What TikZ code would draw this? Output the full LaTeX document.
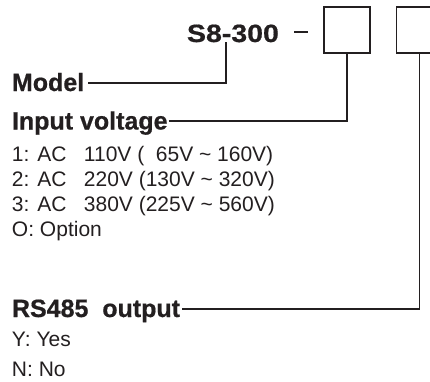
\documentclass[tikz,border=0pt]{standalone}
\usepackage{fontspec}
\setmainfont{Liberation Sans}
\newfontfamily\headfont[FakeBold=0.6]{Liberation Sans Bold}
\newfontfamily\widefont[FakeStretch=1.14,FakeBold=0.6]{Liberation Sans Bold}
\definecolor{ink}{HTML}{231F20}
\begin{document}
\begin{tikzpicture}[x=1pt,y=-1pt,
  every node/.style={inner sep=0pt,outer sep=0pt,text=ink},
  head/.style={anchor=base west,font=\fontsize{25}{30}\headfont},
  item/.style={anchor=base west,font=\fontsize{21}{25}\selectfont},
  slot/.style={draw=ink,line width=1.2pt,minimum width=46pt,minimum height=46pt},
  conn/.style={draw=ink,line width=1.1pt}]
\clip (0,0) rectangle (430,381);
\fill[white] (0,0) rectangle (430,381);
% model code
\node[anchor=base west,font=\fontsize{25}{30}\widefont] (s8) at (187,42) {S8-300};
\node[text=ink] (dash) at (301,32) {\color{ink}\rule{14pt}{1.8pt}};
\node[slot] (box1) at (347,30) {};
\node[slot] (box2) at (419.5,30) {};
% headings
\node[head] (model) at (12,91) {Model};
\node[head] (input) at (12,129.5) {Input voltage};
\node[head] (rs) at (12,317) {RS485~~output};
% items
\node[item] (i1) at (12,161) {1: AC~~~110V (~~65V \textasciitilde{} 160V)};
\node[item] (i2) at (12,186) {2: AC~~~220V (130V \textasciitilde{} 320V)};
\node[item] (i3) at (12,211) {3: AC~~~380V (225V \textasciitilde{} 560V)};
\node[item] (i4) at (12,236) {O: Option};
\node[item] (y) at (12,346) {Y: Yes};
\node[item] (n) at (12,376) {N: No};
% connectors
\draw[conn] ([xshift=4pt,yshift=8pt]model.base east) -| ([xshift=39pt]s8.base west);
\draw[conn] ([xshift=1pt,yshift=8.5pt]input.base east) -| (box1.south);
\draw[conn] ([xshift=2pt,yshift=8pt]rs.base east) -| (box2.south);
\end{tikzpicture}
\end{document}
